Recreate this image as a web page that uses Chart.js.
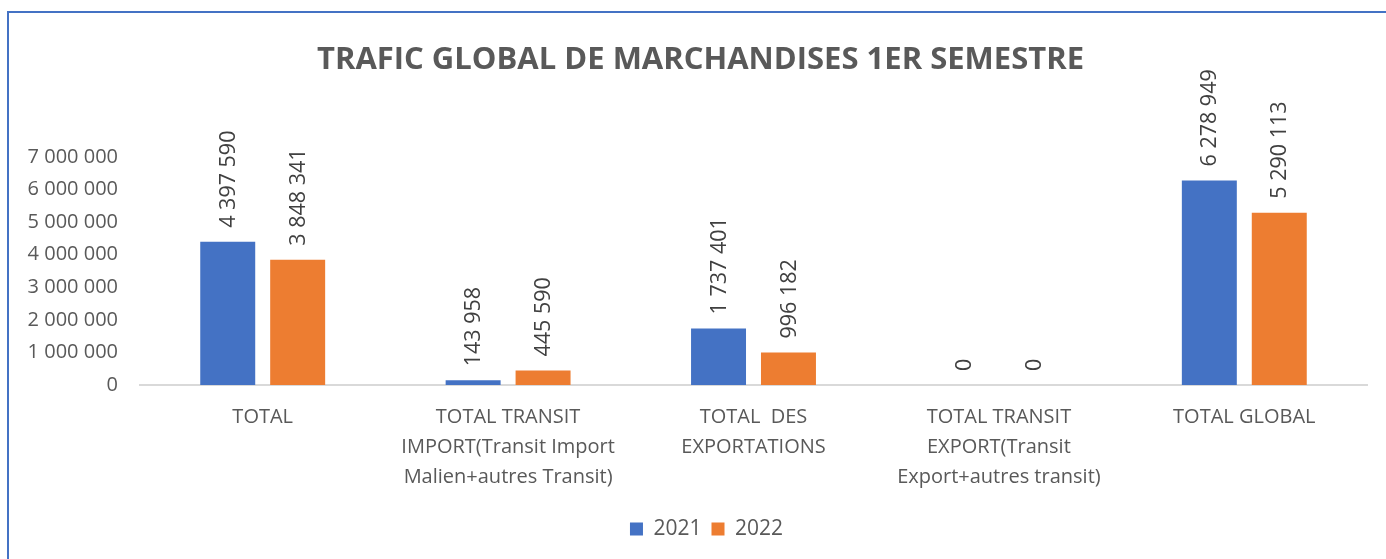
<!DOCTYPE html>
<html>
<head>
<meta charset="utf-8">
<script src="https://cdn.jsdelivr.net/npm/chart.js@4.4.1/dist/chart.umd.min.js"></script>
<style>
  html, body { margin: 0; padding: 0; background: #ffffff; overflow: hidden; }
  #wrap { position: relative; width: 1386px; height: 559px; }
  #frame { position: absolute; left: 7px; top: 11px; right: -10px; bottom: -10px;
           border-top: 2px solid #4472C4; border-left: 2px solid #4472C4; pointer-events: none; }
  canvas { position: absolute; left: 0; top: 0; }
</style>
</head>
<body>
<div id="wrap">
  <canvas id="c" width="1386" height="559"></canvas>
  <div id="frame"></div>
</div>
<script>
// ---- Data ----
const chartTitle = "TRAFIC GLOBAL DE MARCHANDISES 1ER SEMESTRE";
const categories = [
  "TOTAL",
  ["TOTAL TRANSIT", "IMPORT(Transit Import", "Malien+autres Transit)"],
  ["TOTAL  DES", "EXPORTATIONS"],
  ["TOTAL TRANSIT", "EXPORT(Transit", "Export+autres transit)"],
  "TOTAL GLOBAL"
];
const seriesNames = ["2021", "2022"];
const values2021 = [4397590, 143958, 1737401, 0, 6278949];
const values2022 = [3848341, 445590, 996182, 0, 5290113];
const yMin = 0;
const yMax = 7000000;
const yStep = 1000000;

// ---- Helpers ----
function spaced(n) {
  return String(Math.round(n)).replace(/\B(?=(\d{3})+(?!\d))/g, " ");
}

const FONT = "'Open Sans', 'DejaVu Sans', sans-serif";

const valueLabels = {
  id: 'valueLabels',
  afterDatasetsDraw(chart) {
    const ctx = chart.ctx;
    ctx.save();
    ctx.font = "21.5px " + FONT;
    ctx.fillStyle = "#404040";
    ctx.textAlign = "left";
    ctx.textBaseline = "middle";
    chart.data.datasets.forEach((ds, di) => {
      const meta = chart.getDatasetMeta(di);
      meta.data.forEach((bar, i) => {
        ctx.save();
        ctx.translate(bar.x + 1, bar.y - 14);
        ctx.rotate(-Math.PI / 2);
        ctx.fillText(spaced(ds.data[i]), 0, 0);
        ctx.restore();
      });
    });
    ctx.restore();
  }
};

// shift title / legend horizontally to match the original's centering
const boxShift = {
  id: 'boxShift',
  afterLayout(chart) {
    if (chart.legend) chart.legend.left += 46;
    if (chart.titleBlock) chart.titleBlock.left += 34;
  }
};

new Chart(document.getElementById('c'), {
  type: 'bar',
  data: {
    labels: categories,
    datasets: [
      { label: seriesNames[0], data: values2021, backgroundColor: '#4472C4', borderWidth: 0 },
      { label: seriesNames[1], data: values2022, backgroundColor: '#ED7D31', borderWidth: 0 }
    ]
  },
  options: {
    responsive: false,
    animation: false,
    devicePixelRatio: 1,
    categoryPercentage: 0.57,
    barPercentage: 0.786,
    layout: { padding: { left: 0, right: 19, top: 0, bottom: 9.5 } },
    plugins: {
      title: {
        display: true,
        text: chartTitle,
        color: '#595959',
        font: { family: FONT, size: 31, weight: 'bold', lineHeight: 1.2 },
        padding: { top: 41.4, bottom: 78.4 }
      },
      legend: {
        position: 'bottom',
        labels: {
          color: '#595959',
          font: { family: FONT, size: 21 },
          boxWidth: 13,
          boxHeight: 13,
          padding: 10
        }
      },
      tooltip: { enabled: false }
    },
    scales: {
      x: {
        grid: { display: false, drawTicks: false },
        border: { display: true, color: '#d9d9d9', width: 2 },
        ticks: {
          color: '#595959',
          font: { family: FONT, size: 20, lineHeight: 1.5 },
          padding: 17,
          maxRotation: 0,
          autoSkip: false
        },
        afterFit(scale) { scale.height = 123.5; }
      },
      y: {
        min: yMin,
        max: yMax,
        grid: { display: false, drawTicks: false },
        border: { display: false },
        ticks: {
          stepSize: yStep,
          color: '#595959',
          font: { family: FONT, size: 20 },
          padding: 22,
          callback: (v) => spaced(v)
        },
        afterFit(scale) { scale.width = 140; }
      }
    }
  },
  plugins: [valueLabels, boxShift]
});
</script>
</body>
</html>
